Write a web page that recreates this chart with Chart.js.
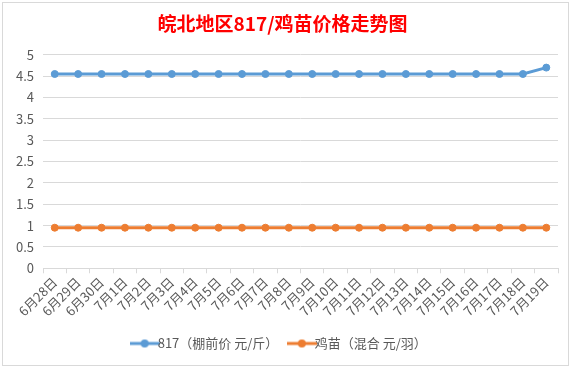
<!DOCTYPE html>
<html>
<head>
<meta charset="utf-8">
<script src="https://cdn.jsdelivr.net/npm/chart.js@4/dist/chart.umd.min.js"></script>
<style>
  html, body { margin: 0; padding: 0; background: #fff; }
  #box { position: absolute; left: 2px; top: 2px; width: 565px; height: 362px; border: 1px solid #d9d9d9; background: #fff; }
  canvas { display: block; }
</style>
</head>
<body>
<div id="box"><canvas id="chart" width="565" height="362"></canvas></div>
<script>
const dates = ["6月28日", "6月29日", "6月30日", "7月1日", "7月2日", "7月3日", "7月4日", "7月5日",
  "7月6日", "7月7日", "7月8日", "7月9日", "7月10日", "7月11日", "7月12日", "7月13日",
  "7月14日", "7月15日", "7月16日", "7月17日", "7月18日", "7月19日"];
const price817 = [4.55, 4.55, 4.55, 4.55, 4.55, 4.55, 4.55, 4.55, 4.55, 4.55, 4.55,
  4.55, 4.55, 4.55, 4.55, 4.55, 4.55, 4.55, 4.55, 4.55, 4.55, 4.7];
const priceChick = [0.95, 0.95, 0.95, 0.95, 0.95, 0.95, 0.95, 0.95, 0.95, 0.95, 0.95,
  0.95, 0.95, 0.95, 0.95, 0.95, 0.95, 0.95, 0.95, 0.95, 0.95, 0.95];
const seriesNames = ["817（棚前价 元/斤）", "鸡苗（混合 元/羽）"];
const seriesColors = ["#5b9bd5", "#ed7d31"];

// legend symbol: short line with a dot, like Excel
function legendMark(color) {
  const c = document.createElement("canvas");
  c.width = 30; c.height = 10;
  const g = c.getContext("2d");
  g.strokeStyle = color; g.lineWidth = 3;
  g.beginPath(); g.moveTo(0, 5); g.lineTo(30, 5); g.stroke();
  g.fillStyle = color;
  g.beginPath(); g.arc(15, 5, 4, 0, Math.PI * 2); g.fill();
  return c;
}

const font = "'Microsoft YaHei', 'Noto Sans CJK SC', 'DejaVu Sans', sans-serif";

new Chart(document.getElementById("chart"), {
  type: "line",
  data: {
    labels: dates,
    datasets: [price817, priceChick].map((d, i) => ({
      label: seriesNames[i],
      data: d,
      borderColor: seriesColors[i],
      backgroundColor: seriesColors[i],
      borderWidth: 3,
      pointRadius: 3.5,
      pointHoverRadius: 3.5,
      pointBorderWidth: 1,
      tension: 0,
      pointStyle: "circle"
    }))
  },
  options: {
    responsive: false,
    animation: false,
    layout: { padding: { left: 4, right: 10, top: 0, bottom: 5 } },
    plugins: {
      title: {
        display: true,
        text: "皖北地区817/鸡苗价格走势图",
        color: "#ff0000",
        font: { family: font, size: 19, weight: "bold" },
        padding: { top: 9, bottom: 20 }
      },
      legend: {
        position: "bottom",
        labels: {
          color: "#595959",
          font: { family: font, size: 13 },
          usePointStyle: true,
          boxWidth: 30,
          boxHeight: 10,
          padding: 17,
          generateLabels: chart => chart.data.datasets.map((ds, i) => ({
            text: ds.label,
            pointStyle: legendMark(seriesColors[i]),
            fillStyle: seriesColors[i],
            strokeStyle: seriesColors[i],
            lineWidth: 0,
            fontColor: "#595959",
            datasetIndex: i
          }))
        }
      },
      tooltip: { enabled: false }
    },
    scales: {
      x: {
        offset: true,
        grid: { offset: true, drawOnChartArea: false, color: "#d9d9d9", tickLength: 5 },
        border: { display: true, color: "#d9d9d9" },
        ticks: {
          color: "#595959",
          font: { family: font, size: 13 },
          minRotation: 45,
          maxRotation: 45,
          autoSkip: false,
          padding: 1
        }
      },
      y: {
        min: 0,
        max: 5,
        grid: { color: "#d9d9d9", drawTicks: false },
        border: { display: false },
        ticks: {
          stepSize: 0.5,
          color: "#595959",
          font: { family: font, size: 13 },
          padding: 9,
          callback: v => String(Math.round(v * 10) / 10)
        }
      }
    }
  }
});
</script>
</body>
</html>
